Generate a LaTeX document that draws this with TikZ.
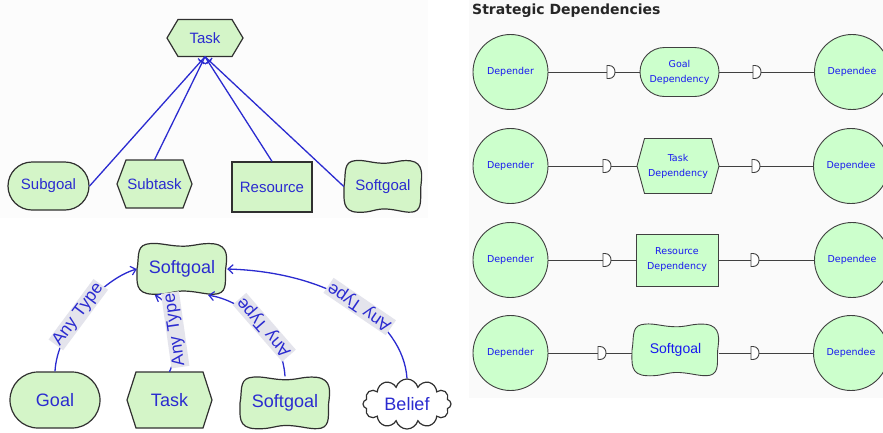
\documentclass[tikz,border=0pt]{standalone}
\usepackage{fontspec}
\setmainfont{Liberation Sans}
\newfontfamily\dvs{DejaVu Sans}
\usetikzlibrary{shapes.symbols,shapes.misc,arrows.meta,decorations.markings}
\definecolor{lgreen}{HTML}{D4F5C8}
\definecolor{rgreen}{HTML}{CCFFCC}
\definecolor{iblue}{HTML}{2B2BD0}
\definecolor{tblue}{HTML}{1818F0}
\definecolor{lblbg}{HTML}{E4E4EC}
\definecolor{edgec}{HTML}{303030}
\definecolor{rline}{HTML}{404040}
% softgoal outline: x y halfwidth halfheight style
\newcommand\sgshape[5]{\path[#5,shift={(#1,#2)},xscale=#3,yscale=#4]
 (-1,0) .. controls (-1,0.5) and (-1.05,0.95) .. (-0.65,0.97)
 .. controls (-0.3,1.0) and (-0.2,0.82) .. (0.1,0.85)
 .. controls (0.4,0.88) and (0.6,1.02) .. (0.8,0.95)
 .. controls (1.02,0.85) and (0.95,0.4) .. (0.97,0)
 .. controls (1.0,-0.4) and (1.05,-0.9) .. (0.7,-0.97)
 .. controls (0.4,-1.02) and (0.25,-0.85) .. (-0.05,-0.88)
 .. controls (-0.35,-0.9) and (-0.55,-1.05) .. (-0.8,-0.95)
 .. controls (-1.02,-0.85) and (-0.95,-0.4) .. (-1,0) -- cycle;}
% hexagon outline: x y halfwidth halfheight indent style
\newcommand\hexshape[6]{\path[#6] (#1-#3,#2) -- (#1-#3+#5,#2-#4) -- (#1+#3-#5,#2-#4)
 -- (#1+#3,#2) -- (#1+#3-#5,#2+#4) -- (#1-#3+#5,#2+#4) -- cycle;}
% dependency D symbol at x y
\newcommand\dsym[2]{\path[dshape] (#1,#2-6.5) -- (#1+2,#2-6.5) .. controls (#1+10,#2-6.5) and (#1+10,#2+6.5) .. (#1+2,#2+6.5) -- (#1,#2+6.5) -- cycle;}
\begin{document}
\begin{tikzpicture}[x=1pt,y=-1pt,
 lframe/.style={draw=edgec, line width=1.2pt, fill=lgreen},
 rframe/.style={draw=rline, line width=0.9pt, fill=rgreen},
 ltxt/.style={text=iblue, inner sep=0pt, font=\fontsize{15}{18}\selectfont},
 btxt/.style={text=iblue, inner sep=0pt, font=\fontsize{18}{21}\selectfont},
 rtxt/.style={text=tblue, inner sep=0pt, align=center, font=\dvs\fontsize{9.5}{15}\selectfont},
 lgoal/.style={lframe, rounded rectangle, ltxt},
 lres/.style={lframe, rectangle, ltxt},
 bgoal/.style={lframe, rounded rectangle, btxt},
 circ/.style={rframe, circle, minimum size=75pt, rtxt},
 dshape/.style={draw=rline, line width=0.9pt, fill=white},
 rl/.style={draw=rline, line width=0.9pt},
 dec/.style={draw=iblue, line width=1.3pt, postaction={decorate},
   decoration={markings, mark=at position -6pt with {\draw[iblue,line width=1.1pt] (0pt,-4pt) -- (0pt,4pt);}}},
 arr/.style={draw=iblue, line width=1.3pt, -{Straight Barb[length=5pt,width=9pt,line width=1.2pt]}},
 lbl/.style={sloped, allow upside down, fill=lblbg, text=iblue, inner sep=1.2pt, font=\fontsize{17.5}{19}\selectfont}
]
\useasboundingbox (0,0) rectangle (883,432);
\fill[white] (0,0) rectangle (883,432);
\fill[black!2] (469,0) rectangle (883,398);
\fill[black!1] (0,0) rectangle (428,218);

% ---------- top-left panel ----------
\hexshape{205}{38}{38}{18.5}{11}{lframe}
\node[ltxt, minimum width=76pt, minimum height=37pt] (tk) at (205,38) {Task};
\node[lgoal, minimum width=81pt, minimum height=48pt] (sgl) at (48.5,186) {Subgoal};
\hexshape{154.5}{184}{37.5}{24}{9}{lframe}
\node[ltxt, minimum width=75pt, minimum height=48pt] (stk) at (154.5,184) {Subtask};
\node[lres, minimum width=80pt, minimum height=50pt] (res) at (272,187) {Resource};
\sgshape{383}{186.5}{39}{26.5}{lframe}
\node[ltxt, minimum width=78pt, minimum height=53pt] (sft) at (383,186.5) {Softgoal};
\draw[dec] (sgl.east) -- (tk.south);
\draw[dec] (stk.north) -- (tk.south);
\draw[dec] (res.north) -- (tk.south);
\draw[dec] (sft.west) -- (tk.south);

% ---------- bottom-left panel ----------
\sgshape{182}{269}{45}{26}{lframe}
\node[btxt, minimum width=90pt, minimum height=52pt] (sgtop) at (182,269) {Softgoal};
\node[bgoal, minimum width=90pt, minimum height=56pt] (goal) at (55,400) {Goal};
\hexshape{169.5}{400}{42.5}{28}{9}{lframe}
\node[btxt, minimum width=85pt, minimum height=56pt] (tk2) at (169.5,400) {Task};
\sgshape{285}{403}{45}{26.5}{lframe}
\node[btxt, minimum width=90pt, minimum height=53pt] (sg2) at (285,403) {Softgoal};
\node[cloud, cloud puffs=12, cloud ignores aspect, draw=edgec, line width=1.2pt, fill=white,
  minimum width=88pt, minimum height=50pt, btxt] (bel) at (407,404) {Belief};
\draw[arr] (goal.north) .. controls (57,330) and (100,280) .. (sgtop.west) node[lbl,pos=0.45] {Any Type};
\draw[arr] (tk2.north) .. controls (182,345) and (176,305) .. (sgtop.224) node[lbl,pos=0.47] {Any Type};
\draw[arr] (sg2.north) .. controls (282,330) and (240,300) .. (sgtop.315) node[lbl,pos=0.42] {Any Type};
\draw[arr] (bel.north) .. controls (403,320) and (330,272) .. (sgtop.east) node[lbl,pos=0.47] {Any Type};

% ---------- right panel ----------
\node[anchor=west, inner sep=0pt, text=black!85, font=\dvs\bfseries\fontsize{14}{16}\selectfont] (title) at (472,10.5) {Strategic Dependencies};

% row 1
\node[circ] (dr1) at (510.5,72) {Depender};
\node[circ] (de1) at (852,72) {Dependee};
\node[rframe, rounded rectangle, minimum width=79pt, minimum height=49pt, rtxt] (m1) at (679.5,72) {Goal\\Dependency};
\coordinate (a1) at (607,72); \coordinate (b1) at (615,72);
\coordinate (c1) at (753,72); \coordinate (e1) at (761,72);
\draw[rl] (dr1.east) -- (a1); \draw[rl] (b1) -- (m1.west);
\draw[rl] (m1.east) -- (c1); \draw[rl] (e1) -- (de1.west);
\dsym{607}{72} \dsym{753}{72}

% row 2
\node[circ] (dr2) at (510.5,166) {Depender};
\node[circ] (de2) at (851,166) {Dependee};
\hexshape{678}{166}{41}{27.5}{7.5}{rframe}
\node[rtxt, minimum width=82pt, minimum height=55pt] (m2) at (678,166) {Task\\Dependency};
\coordinate (a2) at (603,166); \coordinate (b2) at (611,166);
\coordinate (c2) at (752,166); \coordinate (e2) at (760,166);
\draw[rl] (dr2.east) -- (a2); \draw[rl] (b2) -- (m2.west);
\draw[rl] (m2.east) -- (c2); \draw[rl] (e2) -- (de2.west);
\dsym{603}{166} \dsym{752}{166}

% row 3
\node[circ] (dr3) at (510.5,260) {Depender};
\node[circ] (de3) at (852,260) {Dependee};
\node[rframe, rectangle, minimum width=82pt, minimum height=52pt, rtxt] (m3) at (677,260) {Resource\\Dependency};
\coordinate (a3) at (603,260); \coordinate (b3) at (611,260);
\coordinate (c3) at (751,260); \coordinate (e3) at (759,260);
\draw[rl] (dr3.east) -- (a3); \draw[rl] (b3) -- (m3.west);
\draw[rl] (m3.east) -- (c3); \draw[rl] (e3) -- (de3.west);
\dsym{603}{260} \dsym{751}{260}

% row 4
\node[circ] (dr4) at (510.5,353) {Depender};
\node[circ] (de4) at (851,353) {Dependee};
\sgshape{675.5}{350}{43.5}{26.5}{rframe}
\node[text=tblue, inner sep=0pt, minimum width=87pt, minimum height=53pt, font=\fontsize{14}{16}\selectfont] (m4) at (675.5,350) {Softgoal};
\coordinate (a4) at (598,353); \coordinate (b4) at (606,353);
\coordinate (c4) at (751,353); \coordinate (e4) at (759,353);
\draw[rl] (dr4.east) -- (a4); \draw[rl] (b4) -- (m4.west |- b4);
\draw[rl] (m4.east |- c4) -- (c4); \draw[rl] (e4) -- (de4.west);
\dsym{598}{353} \dsym{751}{353}
\end{tikzpicture}
\end{document}
